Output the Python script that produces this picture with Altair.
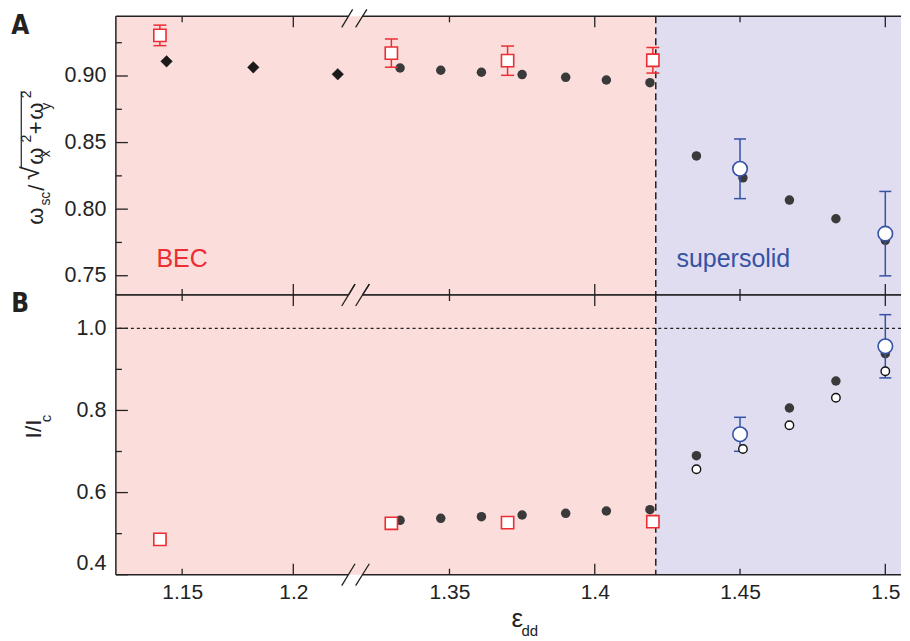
import altair as alt
import pandas as pd

# ---------------- data ----------------
dot_eps = [1.333, 1.347, 1.361, 1.375, 1.390, 1.404, 1.419, 1.435, 1.451, 1.467, 1.483, 1.500]
dot_A = [0.9060, 0.9043, 0.9028, 0.9011, 0.8990, 0.8970, 0.8950, 0.8400, 0.8235, 0.8068, 0.7928, 0.7766]
dot_B = [0.5325, 0.5374, 0.5413, 0.5454, 0.5496, 0.5551, 0.5583, 0.6898, 0.7450, 0.8059, 0.8717, 0.9382]

diamond_eps = [1.143, 1.182, 1.220]
diamond_A = [0.9110, 0.9065, 0.9013]

red_eps = [1.140, 1.330, 1.370, 1.420]
red_A = [0.9305, 0.9172, 0.9115, 0.9118]
red_A_err = [0.0077, 0.0106, 0.0110, 0.0096]
red_B = [0.4862, 0.5252, 0.5267, 0.5291]
red_B_err = [0.0050, 0.0030, 0.0030, 0.0030]

blue_eps = [1.45, 1.50]
blue_A = [0.8303, 0.7816]
blue_A_err = [0.0224, 0.0317]
blue_B = [0.7419, 0.9562]
blue_B_err = [0.0414, 0.0770]

open_eps = [1.435, 1.451, 1.467, 1.483, 1.500]
open_B = [0.6567, 0.7061, 0.7638, 0.8310, 0.8953]

x_tick_values = [1.15, 1.2, 1.35, 1.4, 1.45, 1.5]
x_tick_labels = ["1.15", "1.2", "1.35", "1.4", "1.45", "1.5"]
x_major = [1.2, 1.4, 1.5]
x_minor = [1.15, 1.35, 1.45]
yA_major = [0.75, 0.80, 0.85, 0.90]
yA_minor = [0.775, 0.825, 0.875, 0.925]
yB_major = [0.4, 0.6, 0.8, 1.0]
yB_minor = [0.5, 0.7, 0.9]
eps_c = 1.421
phases = ["BEC", "supersolid"]
phase_labels_y = 0.7629
phase_labels_eps = [1.15, 1.4477]

# ---------------- broken x axis ----------------
EPS_MIN, EPS_MAX = 1.1202, 1.5054
BREAK_LO, BREAK_HI = 1.2279, 1.3176
LEFT_COMPRESS = 0.7652


def disp(e):
    return e if e >= BREAK_HI else BREAK_HI - (BREAK_LO - e) * LEFT_COMPRESS


W, HA, HB = 786, 279, 280
PX0, PYA, PYB = 115.7, 15.0, 294.0

INK = "#222222"
DOT = "#3a3a3a"
RED = "#ec2d33"
BLUE = "#3552a4"
PINK = "#fbdedc"
LAV = "#e0ddf0"
FONT = "Liberation Sans"
BOLD_FONT = "Liberation Sans Narrow, DejaVu Sans Condensed, Liberation Sans"

xscale = alt.Scale(domain=[disp(EPS_MIN), disp(EPS_MAX)], nice=False, zero=False)
yscaleA = alt.Scale(domain=[0.7355, 0.9448], nice=False, zero=False)
yscaleB = alt.Scale(domain=[0.4, 1.081], nice=False, zero=False)

label_expr = " : ".join(
    f"abs(datum.value - {disp(v):.6f}) < 0.0005 ? '{lab}'" for v, lab in zip(x_tick_values, x_tick_labels)
) + " : ''"

x_axis_B = alt.Axis(values=[round(disp(v), 6) for v in x_tick_values], labelExpr=label_expr,
                    ticks=False, tickSize=0, domain=False, grid=False, labelFont=FONT,
                    labelFontSize=21, labelColor=INK, labelPadding=7, labelOverlap=False,
                    labelFlush=False, title=None)
y_axis_A = alt.Axis(values=yA_major, format=".2f", ticks=False, tickSize=0, domain=False,
                    grid=False, labelFont=FONT, labelFontSize=21.5, labelColor=INK,
                    labelPadding=10, labelFlush=False, title=None)
y_axis_B = alt.Axis(values=yB_major, format=".1f", ticks=False, tickSize=0, domain=False,
                    grid=False, labelFont=FONT, labelFontSize=21.5, labelColor=INK,
                    labelPadding=10, labelFlush=True, title=None)

ONE = pd.DataFrame({"k": [0]})


def make_panel(yscale, xaxis, yaxis, H, ymaj, ymin, top_extent):
    def X(field="x"):
        return alt.X(f"{field}:Q", scale=xscale, axis=xaxis, title=None)

    def Y(field):
        return alt.Y(f"{field}:Q", scale=yscale, axis=yaxis, title=None)

    layers = []

    # phase backgrounds + critical dashed line
    bg = pd.DataFrame({"phase": phases,
                       "x0": [disp(EPS_MIN), disp(eps_c)],
                       "x1": [disp(eps_c), disp(EPS_MAX)]})
    layers.append(alt.Chart(bg).mark_rect().encode(
        x=X("x0"), x2=alt.X2("x1"), y=alt.value(0), y2=alt.value(H),
        color=alt.Color("phase:N", scale=alt.Scale(domain=phases, range=[PINK, LAV]), legend=None)))
    layers.append(alt.Chart(pd.DataFrame({"x": [disp(eps_c)]})).mark_rule(
        color=INK, strokeWidth=1.5, strokeDash=[7, 4]).encode(x=X()))

    # frame: left side, plus top and bottom interrupted at the axis break
    brk = pd.DataFrame({"x": [BREAK_HI]})
    layers.append(alt.Chart(ONE).mark_rule(color=INK, strokeWidth=1.5).encode(
        x=alt.value(0), y=alt.value(0), y2=alt.value(H)))
    for y0 in (0, H):
        layers.append(alt.Chart(brk).mark_rule(color=INK, strokeWidth=1.5, xOffset=-7).encode(
            x=X(), x2=alt.value(0), y=alt.value(y0)))
        layers.append(alt.Chart(brk).mark_rule(color=INK, strokeWidth=1.5, xOffset=7).encode(
            x=X(), x2=alt.value(W), y=alt.value(y0)))

    # inward ticks
    for vals, ln in ((x_major, 11), (x_minor, 6)):
        d = pd.DataFrame({"x": [disp(v) for v in vals]})
        base = alt.Chart(d).mark_rule(color=INK, strokeWidth=1.3)
        layers.append(base.encode(x=X(), y=alt.value(0), y2=alt.value(ln)))
        layers.append(base.encode(x=X(), y=alt.value(H), y2=alt.value(H - ln)))
    for vals, ln in ((ymaj, 12), (ymin, 6)):
        d = pd.DataFrame({"v": vals})
        base = alt.Chart(d).mark_rule(color=INK, strokeWidth=1.3)
        layers.append(base.encode(y=Y("v"), x=alt.value(0), x2=alt.value(ln)))

    # axis-break marks
    for y0, up in ((0, top_extent), (H, 11)):
        for a, b in ((-13.6, -0.3), (0.3, 14.0)):
            b2 = a + (b - a) * (11 + up) / 22.0
            layers.append(
                alt.Chart(brk).mark_rule(color=INK, strokeWidth=1.3, xOffset=a, x2Offset=b2,
                                         yOffset=11, y2Offset=-up)
                .encode(x=X(), x2=alt.X2("x"), y=alt.value(y0), y2=alt.value(y0)))
    return layers, X, Y


def errbars(X, Y, eps, vals, errs, color, cap):
    d = pd.DataFrame({"x": [disp(e) for e in eps], "v": vals, "e": errs})
    d["lo"] = d["v"] - d["e"]
    d["hi"] = d["v"] + d["e"]
    bar = alt.Chart(d).mark_rule(color=color, strokeWidth=1.5).encode(x=X(), y=Y("lo"), y2=alt.Y2("hi"))
    caps = [alt.Chart(d).mark_tick(color=color, orient="horizontal", size=cap, thickness=1.5,
                                   opacity=1).encode(x=X(), y=Y(f)) for f in ("lo", "hi")]
    return bar, caps


def points(X, Y, eps, vals, shape, size, fill, stroke, sw):
    d = pd.DataFrame({"x": [disp(e) for e in eps], "v": vals})
    return alt.Chart(d).mark_point(shape=shape, size=size, filled=True, fill=fill,
                                   stroke=stroke, strokeWidth=sw, opacity=1).encode(x=X(), y=Y("v"))


def glyph(t, px, py, oy, size, angle=0, color=INK, weight="normal", align="center",
          baseline="middle", font=FONT):
    return alt.Chart(ONE).mark_text(
        text=t, fontSize=size, font=font, fontWeight=weight, angle=angle,
        align=align, baseline=baseline, color=color
    ).encode(x=alt.value(px - PX0), y=alt.value(py - oy))


# ---------------- panel A ----------------
layers_A, XA, YA = make_panel(yscaleA, None, y_axis_A, HA, yA_major, yA_minor, 7)
layers_A.append(points(XA, YA, dot_eps, dot_A, "circle", 90, DOT, DOT, 0))
layers_A.append(points(XA, YA, diamond_eps, diamond_A, "diamond", 135, "#1a1a1a", "#1a1a1a", 0.5))
bar, caps = errbars(XA, YA, red_eps, red_A, red_A_err, RED, 13)
layers_A += [bar, points(XA, YA, red_eps, red_A, "square", 150, "white", RED, 1.6)] + caps
bar, caps = errbars(XA, YA, blue_eps, blue_A, blue_A_err, BLUE, 12)
layers_A += [bar] + caps + [points(XA, YA, blue_eps, blue_A, "circle", 210, "white", BLUE, 1.6)]
txtA = pd.DataFrame({"x": [disp(e) for e in phase_labels_eps], "v": [phase_labels_y] * 2, "t": phases})
for ph, col in zip(phases, [RED, BLUE]):
    layers_A.append(alt.Chart(txtA[txtA.t == ph]).mark_text(
        font=FONT, fontSize=25, color=col, baseline="middle").encode(x=XA(), y=YA("v"), text="t:N"))
# y title: omega_sc / sqrt(omega_x^2 + omega_y^2)
for t, px, py, fs in [("ω", 35.7, 215, 22), ("sc", 45.7, 197.5, 14), ("/", 36.5, 186.5, 22),
                      ("√", 31.0, 172.0, 25), ("ω", 35.7, 155, 22), ("x", 45.7, 152.5, 14),
                      ("2", 26.5, 137.5, 14), ("+", 35.5, 126.5, 22), ("ω", 35.7, 110, 22),
                      ("y", 46.5, 105, 14), ("2", 26.5, 93, 14)]:
    layers_A.append(glyph(t, px, py, PYA, fs, angle=270))
layers_A.append(alt.Chart(ONE).mark_rule(color=INK, strokeWidth=1.2).encode(
    x=alt.value(21 - PX0), y=alt.value(90 - PYA), y2=alt.value(166 - PYA)))
layers_A.append(glyph("A", 11, 11.5, PYA, 26, weight="bold", align="left", baseline="top", font=BOLD_FONT))

panel_A = alt.layer(*layers_A).properties(width=W, height=HA)

# ---------------- panel B ----------------
layers_B, XB, YB = make_panel(yscaleB, x_axis_B, y_axis_B, HB, yB_major, yB_minor, 11)
layers_B.insert(2, alt.Chart(pd.DataFrame({"v": [1.0]})).mark_rule(
    color=INK, strokeWidth=1.2, strokeDash=[3, 3]).encode(y=YB("v")))
layers_B.append(points(XB, YB, dot_eps, dot_B, "circle", 90, DOT, DOT, 0))
bar, caps = errbars(XB, YB, red_eps, red_B, red_B_err, RED, 13)
layers_B += [bar] + caps + [points(XB, YB, red_eps, red_B, "square", 150, "white", RED, 1.6)]
bar, caps = errbars(XB, YB, blue_eps, blue_B, blue_B_err, BLUE, 12)
layers_B += [bar] + caps
layers_B.append(points(XB, YB, open_eps, open_B, "circle", 72, "white", "#111111", 1.4))
layers_B.append(points(XB, YB, blue_eps, blue_B, "circle", 210, "white", BLUE, 1.6))
layers_B.append(glyph("I/I", 33.4, 428, PYB, 23, angle=270))
layers_B.append(glyph("c", 46, 417.5, PYB, 15, angle=270))
layers_B.append(glyph("ε", 517.5, 618.3, PYB, 26))
layers_B.append(glyph("dd", 530, 630.5, PYB, 15))
layers_B.append(glyph("B", 11, 290, PYB, 26, weight="bold", align="left", baseline="top", font=BOLD_FONT))

panel_B = alt.layer(*layers_B).properties(width=W, height=HB)

chart = alt.vconcat(panel_A, panel_B, spacing=0, bounds="flush").properties(
    padding={"left": 3, "top": 0, "right": 0, "bottom": 0}
).configure_view(strokeWidth=0)

chart.save("out.html", embed_options={"renderer": "svg", "actions": False})
